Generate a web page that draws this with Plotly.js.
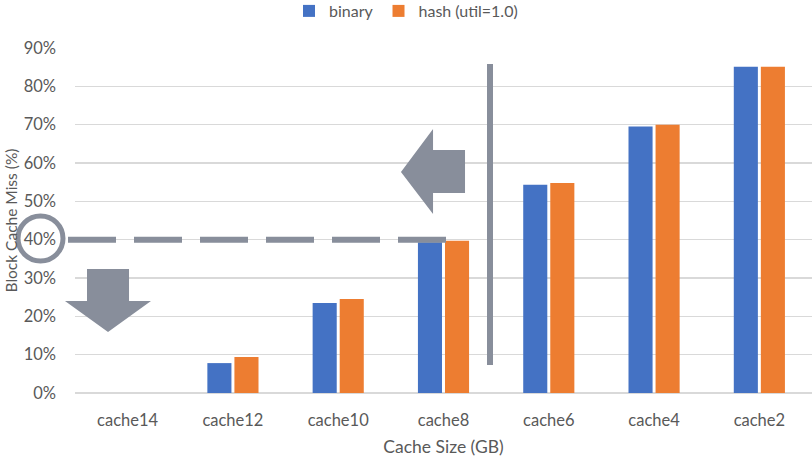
<!DOCTYPE html>
<html>
<head>
<meta charset="utf-8">
<script src="https://cdn.plot.ly/plotly-3.0.1.min.js"></script>
<style>
  html, body { margin: 0; padding: 0; background: #fff; }
  #chart { width: 812px; height: 458px; }
</style>
</head>
<body>
<div id="chart"></div>
<script>
var cacheSizes = ["cache14", "cache12", "cache10", "cache8", "cache6", "cache4", "cache2"];
var binaryMiss = [0, 0.078, 0.235, 0.393, 0.543, 0.695, 0.851];
var hashMiss = [0, 0.094, 0.245, 0.397, 0.548, 0.700, 0.851];
var yTickValues = [0, 0.1, 0.2, 0.3, 0.4, 0.5, 0.6, 0.7, 0.8, 0.9];

// plot area in pixels, used to place the drawn arrows / markers
var plotLeft = 75, plotTop = 48, plotWidth = 737, plotHeight = 345;
var markColor = "#888e9b";

function px(x) { return (x - plotLeft) / plotWidth; }
function py(y) { return (plotTop + plotHeight - y) / plotHeight; }
function pathFrom(points)
{
    return points.map((p, i) => (i ? "L" : "M") + px(p[0]).toFixed(4) + "," + py(p[1]).toFixed(4)).join(" ") + " Z";
}

var binaryTrace =
{
    x: cacheSizes,
    y: binaryMiss,
    name: "binary",
    type: "bar",
    marker: { color: "#4472C4" },
    hoverinfo: "skip"
};

var hashTrace =
{
    x: cacheSizes,
    y: hashMiss,
    name: "hash (util=1.0)",
    type: "bar",
    marker: { color: "#ED7D31" },
    hoverinfo: "skip"
};

var fontFamily = "Lato, 'Open Sans', sans-serif";
var textFont = { family: fontFamily, size: 16.5, color: "#595959" };

var shapes =
[
    // dashed 40% threshold line
    {
        type: "line", xref: "paper", yref: "y",
        x0: px(68), x1: px(446), y0: 0.4, y1: 0.4,
        line: { color: markColor, width: 6, dash: "48px,18px" }
    },
    // circle round the 40% tick
    {
        type: "circle", xref: "paper", yref: "paper",
        x0: px(18), x1: px(63), y0: py(216), y1: py(261),
        line: { color: markColor, width: 5 }
    },
    // vertical divider
    {
        type: "line", xref: "paper", yref: "paper",
        x0: px(490), x1: px(490), y0: py(64), y1: py(365),
        line: { color: markColor, width: 6 }
    },
    // down arrow
    {
        type: "path", xref: "paper", yref: "paper",
        path: pathFrom([[87, 269], [129, 269], [129, 301], [151, 301], [108, 332], [65, 301], [87, 301]]),
        fillcolor: markColor, line: { width: 0 }
    },
    // left arrow
    {
        type: "path", xref: "paper", yref: "paper",
        path: pathFrom([[465, 150], [433, 150], [433, 129], [401, 172], [433, 214], [433, 193], [465, 193]]),
        fillcolor: markColor, line: { width: 0 }
    }
];

var layout =
{
    width: 812,
    height: 458,
    margin: { l: plotLeft, r: 812 - plotLeft - plotWidth, t: plotTop, b: 458 - plotTop - plotHeight, autoexpand: false },
    paper_bgcolor: "#ffffff",
    plot_bgcolor: "#ffffff",
    font: textFont,
    barmode: "group",
    bargap: 0.486,
    bargroupgap: 0.11,
    showlegend: true,
    legend:
    {
        orientation: "h",
        x: px(406), xanchor: "center",
        y: py(11), yanchor: "middle",
        font: { family: fontFamily, size: 16, color: "#595959" },
        itemwidth: 30,
        traceorder: "normal"
    },
    xaxis:
    {
        type: "category",
        showgrid: false,
        showline: false,
        zeroline: false,
        ticks: "",
        tickfont: textFont,
        ticklabelstandoff: 15,
        title: { text: "Cache Size (GB)", font: { family: fontFamily, size: 17.5, color: "#595959" }, standoff: 12 }
    },
    yaxis:
    {
        range: [0, 0.9],
        tickvals: yTickValues,
        tickformat: ".0%",
        showgrid: true,
        gridcolor: "#d9d9d9",
        gridwidth: 1.5,
        zeroline: true,
        zerolinecolor: "#d9d9d9",
        zerolinewidth: 1.5,
        showline: false,
        ticks: "",
        tickfont: textFont,
        ticklabelstandoff: 18,
        title: { text: "Block Cache Miss (%)", font: { family: fontFamily, size: 15.5, color: "#595959" }, standoff: 2 }
    },
    shapes: shapes
};

Plotly.newPlot("chart", [binaryTrace, hashTrace], layout, { staticPlot: true, displayModeBar: false });
</script>
</body>
</html>
